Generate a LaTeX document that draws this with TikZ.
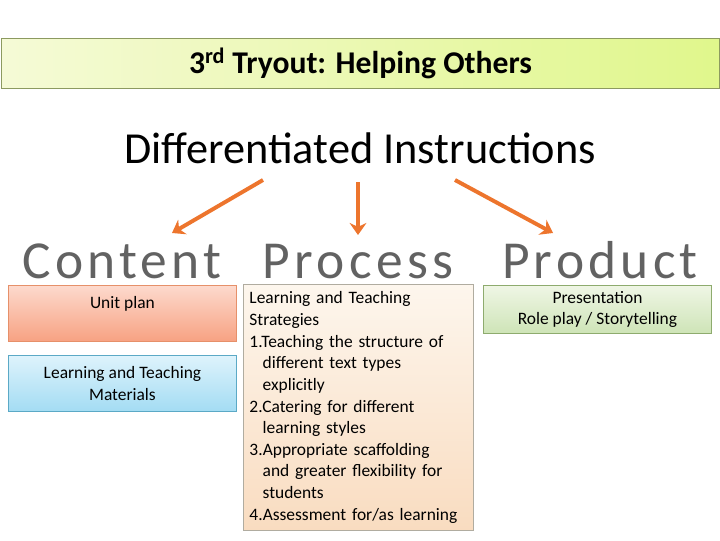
\documentclass[tikz,border=0pt]{standalone}
\usepackage{fontspec}
\setmainfont{Carlito}
\newfontfamily\bigwordfont[LetterSpace=8]{Carlito}
\usetikzlibrary{positioning, arrows.meta}
\definecolor{arrowor}{RGB}{237,117,45}
\definecolor{bannerline}{RGB}{140,154,96}
\definecolor{bannerleft}{RGB}{245,250,214}
\definecolor{bannerright}{RGB}{224,247,140}
\definecolor{wordgray}{RGB}{98,98,98}
\definecolor{unittop}{RGB}{253,218,205}
\definecolor{unitbot}{RGB}{247,162,130}
\definecolor{unitline}{RGB}{230,144,106}
\definecolor{ltmtop}{RGB}{222,243,252}
\definecolor{ltmbot}{RGB}{163,220,243}
\definecolor{ltmline}{RGB}{91,169,198}
\definecolor{strattop}{RGB}{253,246,237}
\definecolor{stratbot}{RGB}{249,220,192}
\definecolor{stratline}{RGB}{176,172,160}
\definecolor{prodtop}{RGB}{239,246,229}
\definecolor{prodbot}{RGB}{206,228,183}
\definecolor{prodline}{RGB}{142,171,110}

\begin{document}
\begin{tikzpicture}[
            x=0.025cm, y=-0.025cm,
            line/.style = {draw=arrowor, line width=2.8pt, -{Stealth[length=3mm, width=4.2mm]}},
            box/.style = {rectangle, line width=0.6pt, anchor=north west, inner sep=2pt,
                          font=\fontsize{12.4}{15.4}\selectfont},
            word/.style = {anchor=base, text=wordgray, draw=none, font=\bigwordfont\fontsize{38}{38}\selectfont},
            ]
            \useasboundingbox (0,0) rectangle (720,540);

            \node[box, draw=bannerline, left color=bannerleft, right color=bannerright,
                  minimum width=17.95cm, minimum height=1.25cm,
                  font=\bfseries\fontsize{22.5}{24}\selectfont] (title) at (1,38)
                  {3\textsuperscript{rd} Tryout: Helping Others};
            \node[font=\fontsize{31.5}{34}\selectfont] (di) at (360,148) {Differentiated Instructions};

            \node[word] (content) at (122,278) {Content};
            \node[word] (process) at (358,278) {Process};
            \node[word] (product) at (600,278) {Product};

            % content boxes
            \node[box, draw=unitline, top color=unittop, bottom color=unitbot,
                  minimum width=5.7cm, minimum height=1.4cm, align=center] (unit) at (8,285)
                  {Unit plan\\ \mbox{}};
            \node[box, draw=ltmline, top color=ltmtop, bottom color=ltmbot,
                  minimum width=5.7cm, minimum height=1.4cm, align=center] (ltm) at (8,355)
                  {Learning and Teaching\\ Materials};

            % process box
            \node[box, draw=stratline, top color=strattop, bottom color=stratbot,
                  minimum height=6.15cm, text width=5.45cm, inner xsep=0.15cm, align=left] (strat) at (243,284)
                  {Learning and Teaching\\
                   Strategies\\
                   1.Teaching the structure of\\
                   \phantom{1.}different text types\\
                   \phantom{1.}explicitly\\
                   2.Catering for different\\
                   \phantom{2.}learning styles\\
                   3.Appropriate scaffolding\\
                   \phantom{3.}and greater flexibility for\\
                   \phantom{3.}students\\
                   \mbox{4.Assessment for/as learning}};

            % product box
            \node[box, draw=prodline, top color=prodtop, bottom color=prodbot,
                  minimum width=5.7cm, minimum height=1.2cm, align=center] (prod) at (483,285)
                  {Presentation\\ Role play / Storytelling};

            \coordinate (a1s) at (263,180);
            \coordinate (a1e) at (172,233);
            \coordinate (a2s) at (358,182);
            \coordinate (a2e) at (358,235);
            \coordinate (a3s) at (455,180);
            \coordinate (a3e) at (553,233);

            \draw[line] (a1s) -- (a1e);
            \draw[line] (a2s) -- (a2e);
            \draw[line] (a3s) -- (a3e);
        \end{tikzpicture}
\end{document}
